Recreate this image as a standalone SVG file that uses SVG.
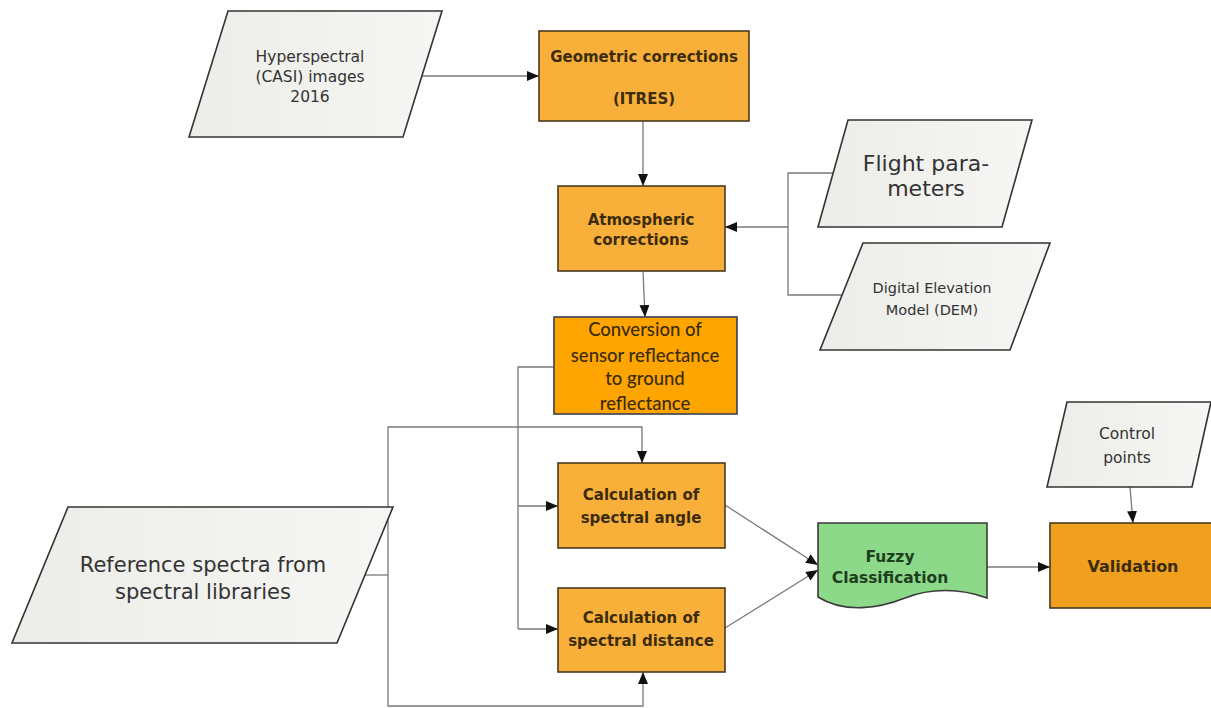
<svg xmlns="http://www.w3.org/2000/svg" width="1211" height="708" viewBox="0 0 1211 708">
  <defs>
    <linearGradient id="dataFill" x1="0" y1="0" x2="1" y2="0">
      <stop offset="0" stop-color="#ECECE8"/>
      <stop offset="1" stop-color="#F6F6F4"/>
    </linearGradient>
    <marker id="arrow" viewBox="0 0 12 10" refX="12" refY="5" markerWidth="12" markerHeight="10" markerUnits="userSpaceOnUse" orient="auto">
      <path d="M0,0 L12,5 L0,10 Z" fill="#111"/>
    </marker>
    <style>
      .data { fill: url(#dataFill); stroke: #333; stroke-width: 1.6; }
      .proc { fill: #F9B03A; stroke: #4a3a20; stroke-width: 1.6; }
      .conv { fill: #FFA502; stroke: #3a3f50; stroke-width: 1.6; }
      .valid { fill: #F0A01E; stroke: #4a3a20; stroke-width: 1.6; }
      .doc { fill: #8CD98A; stroke: #3a3a3a; stroke-width: 1.6; }
      .edge { fill: none; stroke: #7a7a7a; stroke-width: 1.3; }
      .edge-a { fill: none; stroke: #7a7a7a; stroke-width: 1.3; marker-end: url(#arrow); }
      text { font-family: "DejaVu Sans", "Liberation Sans", sans-serif; text-anchor: middle; }
      .tdata { fill: #333; font-size: 15.5px; }
      .tproc { fill: #3b2c0c; font-size: 15px; font-weight: bold; }
      .tconv { fill: #3b2c0c; font-family: Lato, "Open Sans", sans-serif; font-size: 18.5px; font-weight: 500; }
      .tdoc { fill: #1e3e1e; font-size: 15.5px; font-weight: bold; }
    </style>
  </defs>

  <!-- connectors -->
  <g id="connectors">
    <path class="edge-a" d="M422,76 H539"/>
    <path class="edge-a" d="M643,121 V186"/>
    <path class="edge" d="M833,173 H788 V295 H842"/>
    <path class="edge-a" d="M788,227 H725"/>
    <path class="edge-a" d="M643,271 L645,317"/>
    <path class="edge" d="M554,367 H518 V629"/>
    <path class="edge-a" d="M518,629 H558"/>
    <path class="edge-a" d="M518,506 H558"/>
    <path class="edge" d="M365,575 H388"/>
    <path class="edge-a" d="M388,575 V427 H642 V463"/>
    <path class="edge-a" d="M388,575 V706 H643 V672"/>
    <path class="edge-a" d="M725,505 L818,565"/>
    <path class="edge-a" d="M725,628 L818,570"/>
    <path class="edge-a" d="M987,567 H1050"/>
    <path class="edge-a" d="M1130,487 L1133,523"/>
  </g>

  <g id="hyperspectral">
    <polygon class="data" points="228,11 442,11 403,137 189,137"/>
    <text class="tdata" x="310" y="62">Hyperspectral</text>
    <text class="tdata" x="310" y="82">(CASI) images</text>
    <text class="tdata" x="310" y="102">2016</text>
  </g>

  <g id="geometric">
    <rect class="proc" x="539" y="31" width="210" height="90"/>
    <text class="tproc" x="644" y="62">Geometric corrections</text>
    <text class="tproc" x="644" y="104">(ITRES)</text>
  </g>

  <g id="atmospheric">
    <rect class="proc" x="558" y="186" width="167" height="85"/>
    <text class="tproc" x="641" y="225">Atmospheric</text>
    <text class="tproc" x="641" y="245">corrections</text>
  </g>

  <g id="flight">
    <polygon class="data" points="848,120 1032,120 1002,227 818,227"/>
    <text class="tdata" x="926" y="171" style="font-size:22px">Flight para-</text>
    <text class="tdata" x="926" y="196" style="font-size:22px">meters</text>
  </g>

  <g id="dem">
    <polygon class="data" points="863,243 1050,243 1010,350 820,350"/>
    <text class="tdata" x="932" y="293" style="font-size:14.5px">Digital Elevation</text>
    <text class="tdata" x="932" y="315" style="font-size:14.5px">Model (DEM)</text>
  </g>

  <g id="conversion">
    <rect class="conv" x="554" y="317" width="183" height="97"/>
    <text class="tconv" x="645" y="336">Conversion of</text>
    <text class="tconv" x="645" y="362">sensor reflectance</text>
    <text class="tconv" x="645" y="385">to ground</text>
    <text class="tconv" x="645" y="410">reflectance</text>
  </g>

  <g id="reference">
    <polygon class="data" points="68,507 393,507 337,643 12,643"/>
    <text class="tdata" x="203" y="572" style="font-size:21px">Reference spectra from</text>
    <text class="tdata" x="203" y="599" style="font-size:21px">spectral libraries</text>
  </g>

  <g id="angle">
    <rect class="proc" x="558" y="463" width="167" height="85"/>
    <text class="tproc" x="641" y="500">Calculation of</text>
    <text class="tproc" x="641" y="523">spectral angle</text>
  </g>

  <g id="distance">
    <rect class="proc" x="558" y="588" width="167" height="84"/>
    <text class="tproc" x="641" y="623">Calculation of</text>
    <text class="tproc" x="641" y="646">spectral distance</text>
  </g>

  <g id="fuzzy">
    <path class="doc" d="M818,523 H987 V598 C960,588 930,588 905,598 C880,608 845,614 818,597 Z"/>
    <text class="tdoc" x="890" y="562">Fuzzy</text>
    <text class="tdoc" x="890" y="583">Classification</text>
  </g>

  <g id="control">
    <polygon class="data" points="1067,402 1211,402 1192,487 1047,487"/>
    <text class="tdata" x="1127" y="439">Control</text>
    <text class="tdata" x="1127" y="463">points</text>
  </g>

  <g id="validation">
    <rect class="valid" x="1050" y="523" width="170" height="85"/>
    <text class="tproc" x="1133" y="572" style="font-size:16px">Validation</text>
  </g>
</svg>
